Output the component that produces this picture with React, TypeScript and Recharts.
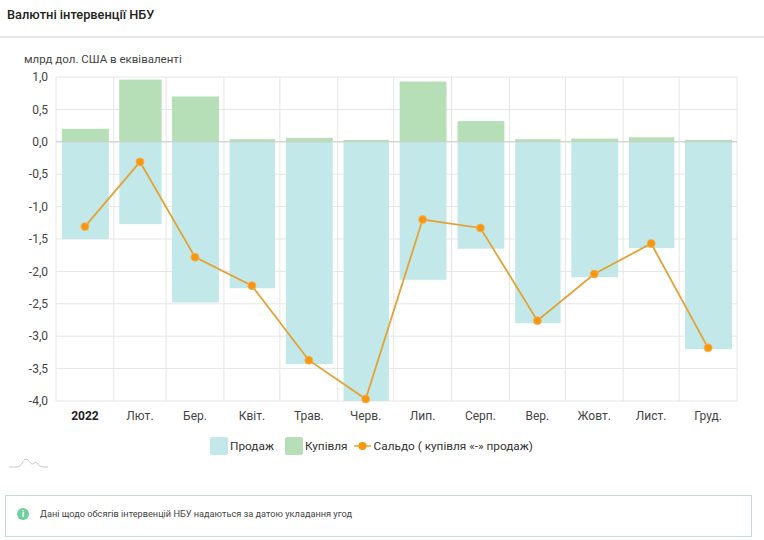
import {
    ComposedChart,
    Bar,
    Line,
    XAxis,
    YAxis,
    CartesianGrid,
    ReferenceLine,
} from "recharts";

const months = ["2022", "Лют.", "Бер.", "Квіт.", "Трав.", "Черв.", "Лип.", "Серп.", "Вер.", "Жовт.", "Лист.", "Груд."];
// the source chart uses a time axis, so months are placed by day of the year
const monthDays = [31, 28, 31, 30, 31, 30, 31, 31, 30, 31, 30, 31];
const monthStarts = [0, 31, 59, 90, 120, 151, 181, 212, 243, 273, 304, 334, 365];
const monthMiddles = [15.5, 45, 74.5, 105, 135.5, 166, 196.5, 227.5, 258, 288.5, 319, 349.5];
const sales = [-1.5, -1.27, -2.48, -2.26, -3.43, -4.0, -2.13, -1.65, -2.8, -2.09, -1.64, -3.2];
const purchases = [0.2, 0.96, 0.7, 0.04, 0.06, 0.03, 0.93, 0.32, 0.04, 0.05, 0.07, 0.03];
const balance = [-1.31, -0.31, -1.78, -2.22, -3.37, -3.97, -1.2, -1.33, -2.76, -2.04, -1.57, -3.18];
const yTicks = [1, 0.5, 0, -0.5, -1, -1.5, -2, -2.5, -3, -3.5, -4];

const chartData = months.map((month, i) => ({
    month,
    day: monthMiddles[i],
    days: monthDays[i],
    sales: sales[i],
    purchases: purchases[i],
    balance: balance[i],
}));

const salesColor = "#c3e8e9";
const purchasesColor = "#b6dfb8";
const balanceLine = "#e2a336";
const balanceDot = "#f7960f";
const font = "Roboto, sans-serif";

const MonthTick = ({ x, y, payload, index }: any) => {
    const i = index ?? payload.index;
    return (
        <text
            x={x}
            y={y + 11}
            textAnchor="middle"
            fontFamily={font}
            fontSize={12}
            fontWeight={i === 0 ? 700 : 400}
            fill={i === 0 ? "#222" : "#444"}
        >
            {months[i]}
        </text>
    );
};

// bar width follows the length of the month
const MonthBar = ({ x, y, width, height, fill, payload }: any) => {
    const w = (width * payload.days) / 30.4;
    return (
        <rect
            x={x + (width - w) / 2}
            y={Math.min(y, y + height)}
            width={w}
            height={Math.abs(height)}
            fill={fill}
        />
    );
};

const LegendSwatch = ({ color, label, gap }: { color: string; label: string; gap: number }) => (
    <div style={{ display: "flex", alignItems: "center", marginRight: gap }}>
        <span
            style={{
                width: 18,
                height: 18,
                borderRadius: 2,
                background: color,
                marginRight: 2,
            }}
        />
        {label}
    </div>
);

export default function App() {
    return (
        <div
            style={{
                position: "absolute",
                left: 0,
                top: 0,
                width: 764,
                height: 540,
                overflow: "hidden",
                background: "#fff",
                fontFamily: font,
                color: "#333",
            }}
        >
            <div
                style={{
                    position: "absolute",
                    left: 0,
                    top: 0,
                    width: 764,
                    height: 36,
                    borderBottom: "2px solid #e8e8e8",
                }}
            >
                <div style={{ position: "absolute", left: 7, top: 7, fontSize: 12.8, fontWeight: 500, color: "#222" }}>
                    Валютні інтервенції НБУ
                </div>
            </div>
            <div style={{ position: "absolute", left: 24, top: 52, fontSize: 11.5, color: "#444" }}>
                млрд дол. США в еквіваленті
            </div>

            <div style={{ position: "absolute", left: 0, top: 0 }}>
                <ComposedChart
                    width={764}
                    height={440}
                    data={chartData}
                    stackOffset="sign"
                    barSize={46}
                    margin={{ top: 77, right: 27, bottom: 0, left: 0 }}
                >
                    <CartesianGrid
                        stroke="#e6e6e6"
                        verticalCoordinatesGenerator={({ offset }: any) =>
                            monthStarts.map((d) => offset.left + (d * offset.width) / 365)
                        }
                    />
                    <XAxis
                        dataKey="day"
                        type="number"
                        domain={[0, 365]}
                        ticks={monthMiddles}
                        height={39}
                        axisLine={false}
                        tickLine={false}
                        interval={0}
                        tick={<MonthTick />}
                    />
                    <YAxis
                        width={56}
                        domain={[-4, 1]}
                        ticks={yTicks}
                        interval={0}
                        axisLine={false}
                        tickLine={false}
                        tickMargin={2}
                        tick={{ fontFamily: font, fontSize: 12, fill: "#444" }}
                        tickFormatter={(v: number) => v.toFixed(1).replace(".", ",")}
                    />
                    <Bar dataKey="sales" stackId="a" fill={salesColor} shape={<MonthBar />} isAnimationActive={false} />
                    <Bar dataKey="purchases" stackId="a" fill={purchasesColor} shape={<MonthBar />} isAnimationActive={false} />
                    <ReferenceLine y={0} stroke="#c9cfc9" />
                    <Line
                        dataKey="balance"
                        stroke={balanceLine}
                        strokeWidth={1.8}
                        dot={{ r: 4, fill: balanceDot, stroke: "#f5b45c", strokeWidth: 0.8 }}
                        isAnimationActive={false}
                    />
                </ComposedChart>
            </div>

            <div
                style={{
                    position: "absolute",
                    left: 210,
                    top: 437,
                    height: 18,
                    display: "flex",
                    alignItems: "center",
                    fontSize: 11.8,
                    color: "#333",
                    whiteSpace: "nowrap",
                }}
            >
                <LegendSwatch color={salesColor} label="Продаж" gap={11} />
                <LegendSwatch color={purchasesColor} label="Купівля" gap={6} />
                <svg width={17} height={10} style={{ marginRight: 3 }}>
                    <line x1={0} y1={5} x2={17} y2={5} stroke={balanceLine} strokeWidth={1.5} />
                    <circle cx={8.5} cy={5} r={4} fill={balanceDot} />
                </svg>
                Сальдо ( купівля «-» продаж)
            </div>

            <svg width={40} height={12} style={{ position: "absolute", left: 9, top: 458 }}>
                <path
                    d="M0 9 L9 9 C12 9 14 1 17 1 C20 1 21 6 23 6 C25 6 26 3 28 5 C30 8 32 9 36 9 L39 9"
                    fill="none"
                    stroke="#c8c8c8"
                    strokeWidth={1}
                />
            </svg>

            <div
                style={{
                    position: "absolute",
                    left: 5,
                    top: 495,
                    width: 745,
                    height: 40,
                    border: "1px solid #c4dcd4",
                }}
            >
                <div
                    style={{
                        position: "absolute",
                        left: 11,
                        top: 12,
                        width: 12,
                        height: 12,
                        borderRadius: 6,
                        background: "#6fcf9f",
                        color: "#fff",
                        fontSize: 9,
                        fontWeight: 700,
                        lineHeight: "12px",
                        textAlign: "center",
                    }}
                >
                    i
                </div>
                <div style={{ position: "absolute", left: 34, top: 12, fontSize: 9.2, color: "#444" }}>
                    Дані щодо обсягів інтервенцій НБУ надаються за датою укладання угод
                </div>
            </div>
        </div>
    );
}
